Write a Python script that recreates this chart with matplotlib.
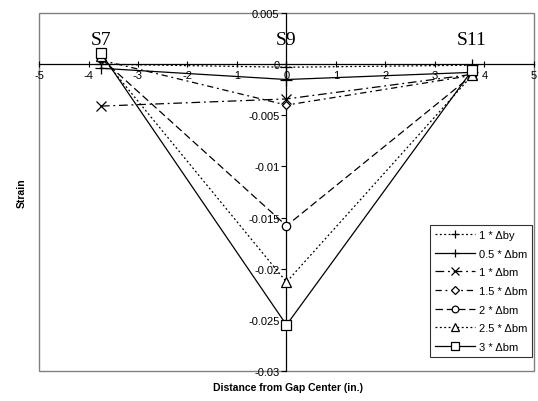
import matplotlib
matplotlib.use("Agg")
import matplotlib.pyplot as plt
from matplotlib.patches import Rectangle

# Gauge positions relative to the gap center (in.)
gauges = ["S7", "S9", "S11"]
positions = [-3.75, 0.0, 3.75]

# Strain at each gauge for each loading level
series_labels = ["1 * \u0394by", "0.5 * \u0394bm", "1 * \u0394bm", "1.5 * \u0394bm",
                 "2 * \u0394bm", "2.5 * \u0394bm", "3 * \u0394bm"]
strain_1by = [0.0, -0.0003, -0.0001]
strain_05bm = [-0.0004, -0.0015, -0.0008]
strain_1bm = [-0.0041, -0.0034, -0.0010]
strain_15bm = [0.0004, -0.0040, -0.0011]
strain_2bm = [0.0006, -0.0158, -0.0011]
strain_25bm = [0.0008, -0.0213, -0.0011]
strain_3bm = [0.0011, -0.0255, -0.0006]

x_ticks = [-5, -4, -3, -2, -1, 0, 1, 2, 3, 4, 5]
y_ticks = [0.005, 0, -0.005, -0.01, -0.015, -0.02, -0.025, -0.03]
y_tick_labels = ["0.005", "0", "-0.005", "-0.01", "-0.015", "-0.02", "-0.025", "-0.03"]

plt.rcParams["font.family"] = ["Liberation Sans", "DejaVu Sans"]

fig = plt.figure(figsize=(5.38, 4.02), dpi=100)
ax = fig.add_axes([0.0725, 0.0746, 0.92, 0.8905])

styles = [
    dict(ls=(0, (1.5, 2)), marker="+", ms=8, mfc="none"),
    dict(ls="-", marker="+", ms=8, mfc="none"),
    dict(ls=(0, (7, 3, 1.5, 3)), marker="x", ms=7, mfc="none"),
    dict(ls=(0, (5, 3, 1.5, 3)), marker="D", ms=4.5, mfc="white"),
    dict(ls=(0, (6, 3)), marker="o", ms=6, mfc="white"),
    dict(ls=(0, (1.5, 2)), marker="^", ms=6.5, mfc="white"),
    dict(ls="-", marker="s", ms=6.5, mfc="white"),
]
all_series = [strain_1by, strain_05bm, strain_1bm, strain_15bm,
              strain_2bm, strain_25bm, strain_3bm]
for vals, lab, st in zip(all_series, series_labels, styles):
    ax.plot(positions, vals, color="black", lw=0.9, label=lab,
            marker=st["marker"], ms=st["ms"], mfc=st["mfc"], mec="black",
            mew=0.9, linestyle=st["ls"], zorder=3)

ax.set_xlim(-5, 5)
ax.set_ylim(-0.03, 0.005)

# Axes cross at the origin
ax.spines["left"].set_position(("data", 0))
ax.spines["bottom"].set_position(("data", 0))
ax.spines["top"].set_visible(False)
ax.spines["right"].set_visible(False)
for s in ("left", "bottom"):
    ax.spines[s].set_color("black")
    ax.spines[s].set_linewidth(0.9)
    ax.spines[s].set_zorder(2)

ax.set_xticks(x_ticks)
ax.set_xticklabels([str(t) for t in x_ticks])
ax.set_yticks(y_ticks)
ax.set_yticklabels(y_tick_labels)
ax.tick_params(axis="both", labelsize=8, length=3.5, width=0.8, direction="out", pad=1.5)
ax.tick_params(axis="x", direction="inout", length=5)

# Plot-area frame
ax.add_patch(Rectangle((0, 0), 1, 1, transform=ax.transAxes, fill=False,
                       edgecolor="#808080", lw=1.0, clip_on=False, zorder=1))

for g, xp in zip(gauges, positions):
    ax.text(xp, 0.0016, g, ha="center", va="bottom", fontsize=14,
            family=["Liberation Serif", "DejaVu Serif"])

fig.text(0.535, 0.035, "Distance from Gap Center (in.)", ha="center", va="center",
         fontsize=7.5, fontweight="bold")
fig.text(0.041, 0.52, "Strain", ha="center", va="center", rotation=90,
         fontsize=7.5, fontweight="bold")

leg = ax.legend(loc="lower right", bbox_to_anchor=(0.996, 0.039), fontsize=8,
                frameon=True, fancybox=False, edgecolor="black", handlelength=3.6,
                handletextpad=0.35, labelspacing=0.78, borderpad=0.45, borderaxespad=0,
                markerscale=0.8)
leg.get_frame().set_linewidth(0.8)

fig.savefig("out.png", dpi=100)
